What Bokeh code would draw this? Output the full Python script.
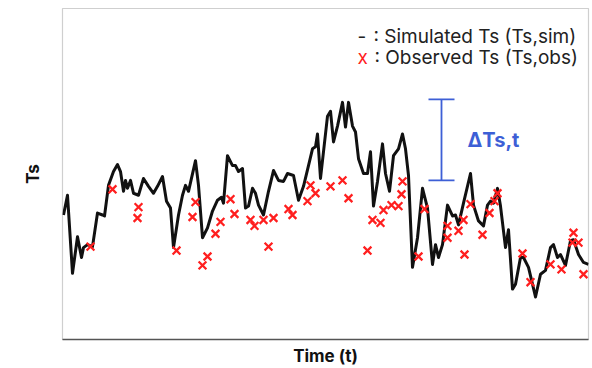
from bokeh.plotting import figure
from bokeh.models import Label, Range1d
from bokeh.embed import file_html
from bokeh.resources import INLINE

# Simulated surface temperature (line) : time index, Ts (arbitrary units)
t_sim = [1, 5, 10, 15, 19, 21, 25, 30, 35, 40, 42, 46, 51, 55, 58, 61, 63, 65, 68, 71, 76, 81, 86, 91, 95,
         100, 104, 108, 111, 116, 120, 123, 126, 133, 136, 140, 145, 150, 155, 159, 161, 165, 170, 173, 176,
         180, 183, 186, 190, 193, 196, 201, 206, 211, 216, 221, 225, 231, 236, 241, 246, 250, 253, 255, 258,
         265, 268, 271, 275, 280, 283, 286, 290, 293, 296, 301, 305, 308, 311, 315, 320, 323, 327, 331, 336,
         340, 343, 346, 350, 355, 360, 365, 370, 373, 376, 380, 385, 390, 393, 396, 401, 408, 411, 416, 421,
         425, 428, 431, 435, 438, 443, 446, 450, 453, 458, 461, 466, 470, 473, 478, 483, 488, 491, 495, 498,
         503, 508, 511, 516, 521, 526]
ts_sim = [126, 146, 67, 104, 83, 93, 96, 94, 128, 126, 125, 156, 170, 177, 170, 150, 161, 153, 161, 148, 146,
          163, 155, 148, 155, 165, 140, 133, 93, 126, 146, 156, 150, 181, 156, 103, 113, 130, 141, 144, 138,
          186, 176, 176, 170, 173, 133, 135, 153, 148, 136, 126, 150, 171, 161, 160, 168, 166, 141, 155, 176,
          193, 195, 208, 163, 226, 231, 200, 216, 240, 215, 240, 216, 210, 183, 168, 168, 190, 135, 160, 198,
          168, 150, 186, 193, 208, 193, 166, 73, 103, 153, 133, 76, 96, 83, 96, 136, 125, 126, 116, 138, 168,
          136, 120, 115, 136, 140, 138, 153, 135, 93, 111, 51, 56, 83, 83, 73, 56, 43, 66, 70, 93, 96, 83, 86,
          75, 100, 101, 86, 78, 76]

# Observed surface temperature (x markers)
t_obs = [28, 50, 76, 75, 114, 133, 130, 145, 140, 153, 158, 168, 172, 188, 192, 201, 206, 211, 226, 230,
         245, 248, 253, 268, 280, 286, 305, 310, 318, 321, 329, 336, 339, 340, 356, 362, 385, 385, 396, 401,
         402, 408, 420, 427, 432, 435, 460, 468, 488, 499, 511, 510, 516, 521]
ts_obs = [94, 152, 134, 123, 90, 139, 124, 84, 75, 107, 119, 142, 127, 121, 115, 121, 94, 123, 132, 126,
          140, 156, 148, 155, 161, 143, 90, 121, 118, 131, 136, 135, 147, 160, 84, 132, 115, 103, 110, 121,
          86, 137, 106, 128, 140, 148, 87, 58, 76, 71, 108, 98, 98, 66]

# Annotation texts
legend_sim = ": Simulated Ts (Ts,sim)"
legend_obs = ": Observed Ts (Ts,obs)"
delta_label = "ΔTs,t"
x_label = "Time (t)"
y_label = "Ts"

# Delta bracket (data units)
bracket_t = 379
bracket_low, bracket_high = 161, 243
bracket_half = 13

FONT = "Inter"

p = figure(width=590, height=368, output_backend="svg", toolbar_location=None,
           x_range=Range1d(0, 526), y_range=Range1d(0, 335),
           min_border_left=62, min_border_right=2, min_border_top=8, min_border_bottom=25)
p.grid.visible = False
p.outline_line_color = "#cfcfcf"
p.outline_line_width = 1.2
p.background_fill_color = "white"
p.border_fill_color = "white"

for ax in (p.xaxis[0], p.yaxis[0]):
    ax.ticker = []
    ax.major_tick_in = 0
    ax.major_tick_out = 0
    ax.minor_tick_in = 0
    ax.minor_tick_out = 0
    ax.major_label_standoff = 0
    ax.major_label_text_font_size = "0px"
    ax.axis_label_text_font = FONT
    ax.axis_label_text_font_size = "17px"
    ax.axis_label_text_font_style = "bold"
    ax.axis_label_text_color = "#111111"

p.xaxis.axis_label = x_label
p.xaxis.axis_label_standoff = 6
p.xaxis.axis_line_color = "#555555"
p.xaxis.axis_line_width = 1.6
p.yaxis.axis_label = y_label
p.yaxis.axis_label_standoff = 20
p.yaxis.axis_line_color = None

p.line(t_sim, ts_sim, line_color="#111111", line_width=3, line_join="round")
p.scatter(t_obs, ts_obs, marker="x", size=11, line_color="#ff1f1f", line_width=2.3)

# Delta bracket
blue = "#3d5fd6"
p.segment(x0=[bracket_t, bracket_t - bracket_half, bracket_t - bracket_half],
          y0=[bracket_low, bracket_low, bracket_high],
          x1=[bracket_t, bracket_t + bracket_half, bracket_t + bracket_half],
          y1=[bracket_high, bracket_low, bracket_high],
          line_color=blue, line_width=1.8)
p.add_layout(Label(x=bracket_t + 26, y=(bracket_low + bracket_high) / 2, text=delta_label,
                   text_font=FONT, text_font_size="20px", text_font_style="bold",
                   text_color=blue, text_baseline="middle", text_align="left"))

# Legend texts
p.add_layout(Label(x=295, y=307, text="-", text_font=FONT, text_font_size="19px",
                   text_color="#222222", text_baseline="middle"))
p.add_layout(Label(x=311, y=307, text=legend_sim, text_font=FONT, text_font_size="19px",
                   text_color="#222222", text_baseline="middle"))
p.add_layout(Label(x=295, y=285, text="x", text_font=FONT, text_font_size="19px",
                   text_color="#ff1f1f", text_baseline="middle"))
p.add_layout(Label(x=312, y=285, text=legend_obs, text_font=FONT, text_font_size="19px",
                   text_color="#222222", text_baseline="middle"))

open("out.html", "w").write(file_html(p, INLINE))
